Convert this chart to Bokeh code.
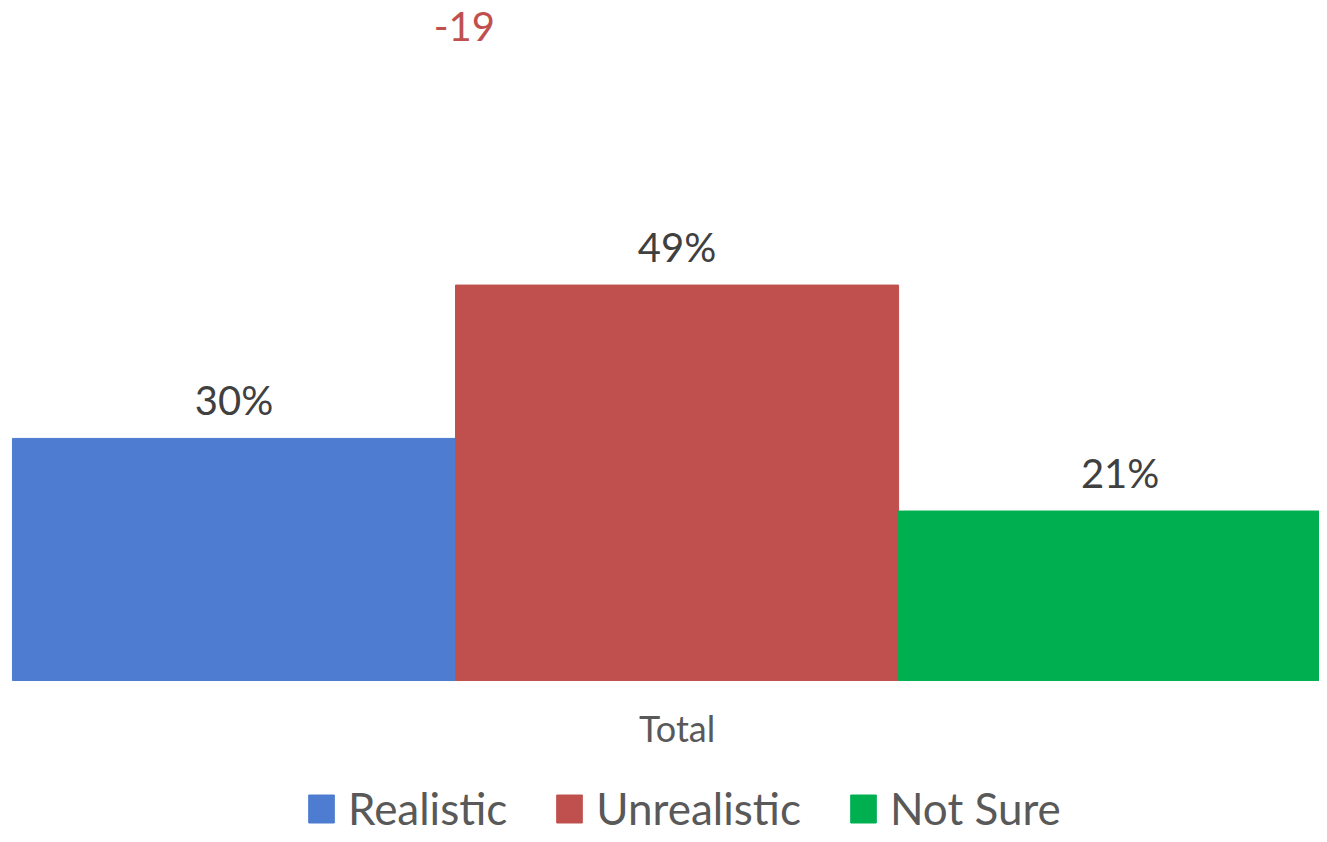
from bokeh.plotting import figure
from bokeh.models import ColumnDataSource, LabelSet, Label, Legend, LegendItem, Range1d
from bokeh.core.properties import value
from bokeh.embed import file_html
from bokeh.resources import INLINE

categories = ["Realistic", "Unrealistic", "Not Sure"]
values = [30, 49, 21]
colors = ["#4D7CD0", "#C0504D", "#00B050"]
group_label = "Total"
net_label = "-19"

positions = list(range(len(categories)))
labels = [f"{v}%" for v in values]

src = ColumnDataSource(dict(x=positions, top=values, color=colors, label=labels, name=categories))

p = figure(width=1319, height=834, output_backend="svg", toolbar_location=None,
           x_range=Range1d(-0.527, 2.450), y_range=Range1d(-19.08, 84.26),
           min_border=0, outline_line_color=None, x_axis_location=None, y_axis_location=None)

r = p.vbar(x='x', top='top', width=1.0, color='color', source=src)

p.xgrid.grid_line_color = None
p.ygrid.grid_line_color = None

# category label under the group
cat = Label(x=1, y=0, y_offset=-47, text=group_label, text_align="center", text_baseline="middle",
            text_font="Lato", text_font_size="36px", text_color="#595959")
p.add_layout(cat)

labelset = LabelSet(x='x', y='top', text='label', source=src, text_align="center",
                    text_baseline="alphabetic", y_offset=23, text_font=value("Lato"),
                    text_font_size=value("40px"), text_color=value("#404040"))
p.add_layout(labelset)

net = Label(x=0.52, y=81, text=net_label, text_align="center", text_baseline="middle",
            text_font="Lato", text_font_size="40px", text_color="#C0504D")
p.add_layout(net)

legend = Legend(items=[LegendItem(label=categories[i], renderers=[r], index=i) for i in positions],
                orientation="horizontal", location=(305, 0), glyph_width=32, glyph_height=35,
                label_standoff=11, spacing=46, label_text_font="Lato", label_text_font_size="44px",
                label_text_color="#595959", border_line_color=None, background_fill_alpha=0,
                padding=0, margin=0)
p.add_layout(legend)

open("out.html", "w").write(file_html(p, INLINE))
